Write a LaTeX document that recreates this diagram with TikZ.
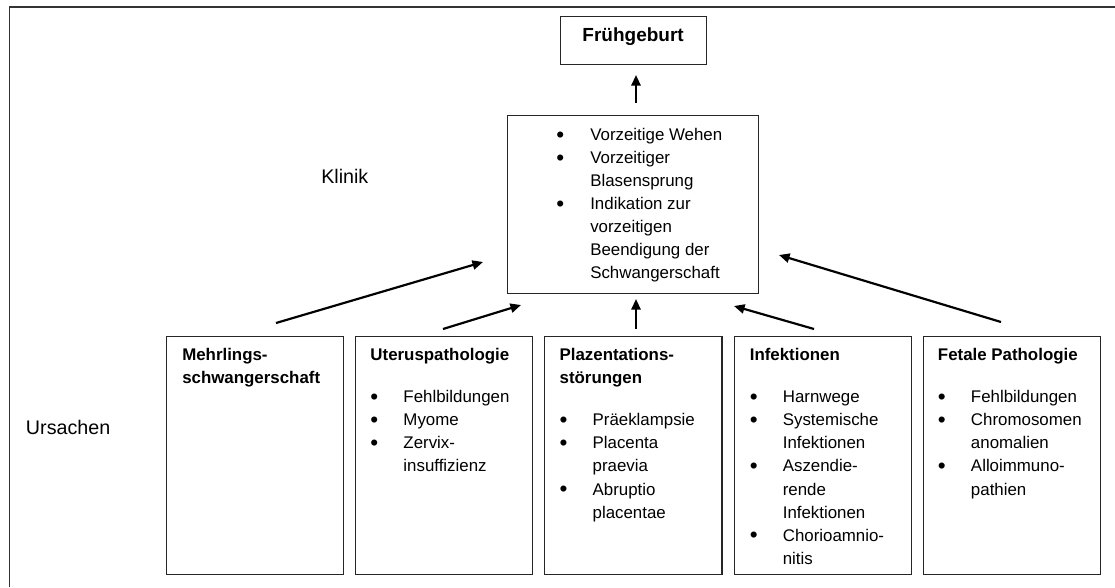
\documentclass[tikz,border=0pt]{standalone}
\usepackage{fontspec}
\setmainfont{Liberation Sans}
\usepackage{tikz}
\usetikzlibrary{positioning,calc,arrows.meta}

\newcommand{\pkt}{\raisebox{-1.3pt}{\fontsize{16}{16}\selectfont\textbullet}}

\tikzset{
  box/.style={draw=black!85, line width=0.8pt, minimum width=4.425cm, minimum height=5.95cm, inner sep=0pt},
  txt/.style={inner sep=0pt, font=\fontsize{12}{16.4}\selectfont},
  lbl/.style={inner sep=0pt, font=\fontsize{14}{16}\selectfont},
  pfeil/.style={line width=1.55pt, -{Triangle[length=7.5pt,width=6.5pt]}}
}

\begin{document}
\begin{tikzpicture}[x=0.025cm, y=-0.025cm]
\useasboundingbox (0,0) rectangle (1115,587);
\draw[line width=1.4pt, black!80] (1115,7) -- (9.5,7) -- (9.5,587);
%----------------------------------
\node[box, anchor=north west, minimum width=6.275cm, minimum height=4.45cm] (klinik) at (507,115) {};
\node[box, above=1.25cm of klinik, minimum width=3.65cm, minimum height=1.2cm] (frueh) {};
\node[lbl, anchor=base, font=\fontsize{13.5}{16}\selectfont\bfseries] (fruehtxt) at ($(frueh.north)+(0,25.7)$) {Frühgeburt};
\node[txt, anchor=base west] (klinitxt) at ($(klinik.north west)+(49,25.5)$) {%
\begin{tabular}[t]{@{}p{0.85cm}@{}l@{}}
\pkt & Vorzeitige Wehen\\
\pkt & Vorzeitiger\\
 & Blasensprung\\
\pkt & Indikation zur\\
 & vorzeitigen\\
 & Beendigung der\\
 & Schwangerschaft
\end{tabular}};
\node[lbl, anchor=base west] (klinlbl) at (321,183) {Klinik};
\node[lbl, anchor=base west] (urslbl) at (25.7,434) {Ursachen};
%----------------------------------
\node[box, anchor=north west] (mehr) at (166,336) {};
\node[box, right=0.275cm of mehr] (uterus) {};
\node[box, right=0.275cm of uterus] (plaz) {};
\node[box, right=0.275cm of plaz] (infekt) {};
\node[box, right=0.275cm of infekt] (fetal) {};
%----------------------------------
\node[txt, anchor=base west] (mehrtxt) at ($(mehr.north west)+(16,24)$) {%
\begin{tabular}[t]{@{}l@{}}
\bfseries Mehrlings-\\
\bfseries schwangerschaft
\end{tabular}};
\node[txt, anchor=base west] (uterustxt) at ($(uterus.north west)+(15,24)$) {%
\begin{tabular}[t]{@{}p{0.825cm}@{}l@{}}
\multicolumn{2}{@{}l@{}}{\bfseries Uteruspathologie}\\[14pt]
\pkt & Fehlbildungen\\
\pkt & Myome\\
\pkt & Zervix-\\
 & insuffizienz
\end{tabular}};
\node[txt, anchor=base west] (plaztxt) at ($(plaz.north west)+(15,24)$) {%
\begin{tabular}[t]{@{}p{0.825cm}@{}l@{}}
\multicolumn{2}{@{}l@{}}{\bfseries Plazentations-}\\
\multicolumn{2}{@{}l@{}}{\bfseries störungen}\\[14pt]
\pkt & Präeklampsie\\
\pkt & Placenta\\
 & praevia\\
\pkt & Abruptio\\
 & placentae
\end{tabular}};
\node[txt, anchor=base west] (infekttxt) at ($(infekt.north west)+(16,24)$) {%
\begin{tabular}[t]{@{}p{0.825cm}@{}l@{}}
\multicolumn{2}{@{}l@{}}{\bfseries Infektionen}\\[14pt]
\pkt & Harnwege\\
\pkt & Systemische\\
 & Infektionen\\
\pkt & Aszendie-\\
 & rende\\
 & Infektionen\\
\pkt & Chorioamnio-\\
 & nitis
\end{tabular}};
\node[txt, anchor=base west] (fetaltxt) at ($(fetal.north west)+(15,24)$) {%
\begin{tabular}[t]{@{}p{0.825cm}@{}l@{}}
\multicolumn{2}{@{}l@{}}{\bfseries Fetale Pathologie}\\[14pt]
\pkt & Fehlbildungen\\
\pkt & Chromosomen\\
 & anomalien\\
\pkt & Alloimmuno-\\
 & pathien
\end{tabular}};
%----------------------------------
\coordinate (k0) at (636,103); \coordinate (f0) at (636,75);
\coordinate (m1) at (276,323); \coordinate (k1) at (483,262);
\coordinate (u1) at (443,329); \coordinate (k2) at (521,305);
\coordinate (p1) at (636,329); \coordinate (k3) at (636,299);
\coordinate (i1) at (814,329); \coordinate (k4) at (734,306);
\coordinate (e1) at (1001,322); \coordinate (k5) at (779,255);
\draw[pfeil] (k0) -- (f0);
\draw[pfeil] (m1) -- (k1);
\draw[pfeil] (u1) -- (k2);
\draw[pfeil] (p1) -- (k3);
\draw[pfeil] (i1) -- (k4);
\draw[pfeil] (e1) -- (k5);
\end{tikzpicture}
\end{document}
